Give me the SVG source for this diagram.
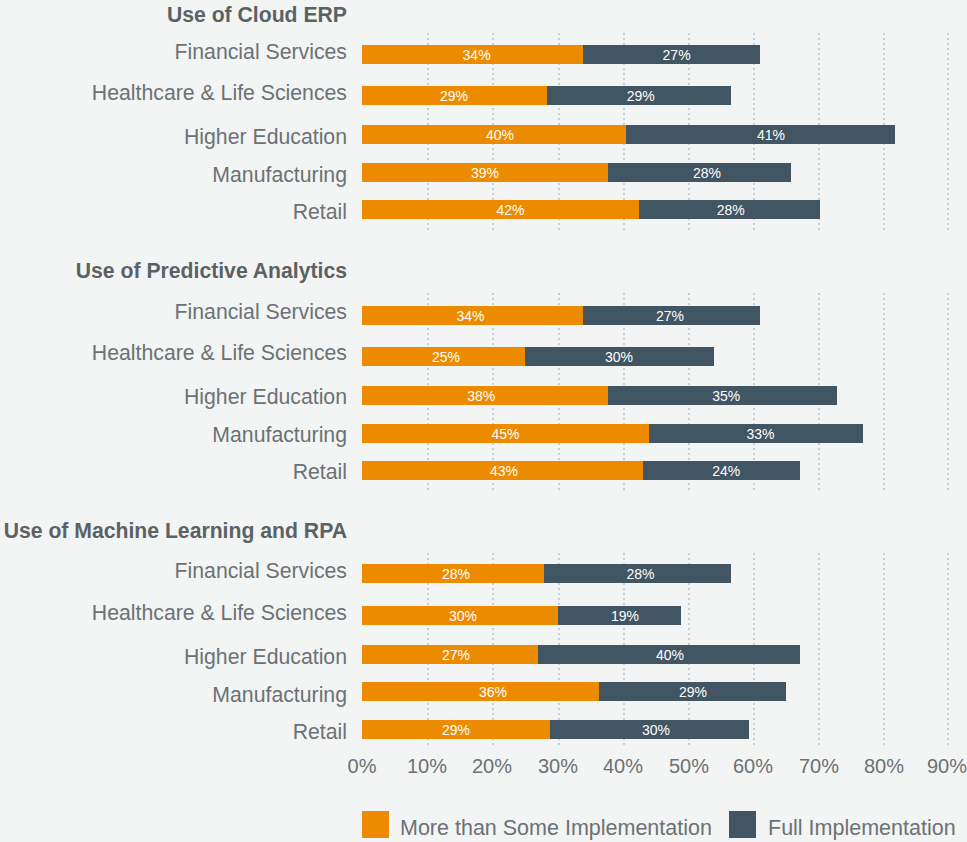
<svg xmlns="http://www.w3.org/2000/svg" width="967" height="842" viewBox="0 0 967 842">
<style>
.bg{fill:#f3f4f4}
.o{fill:#ec8b00}
.d{fill:#425563}
.grid{stroke:#c3d1dc;stroke-width:2;stroke-dasharray:2 3;fill:none}
.title{font-family:"Liberation Sans",Arial,sans-serif;font-weight:bold;font-size:21.2px;fill:#5b6265;text-anchor:end}
.cat{font-family:"Liberation Sans",Arial,sans-serif;font-size:21.25px;fill:#6b7275;text-anchor:end}
.val{font-family:"Liberation Sans",Arial,sans-serif;font-size:14px;fill:#ffffff;text-anchor:middle}
.axis{font-family:"Liberation Sans",Arial,sans-serif;font-size:20px;fill:#6b7275;text-anchor:middle}
.leg{font-family:"Liberation Sans",Arial,sans-serif;font-size:21.5px;fill:#6b7275}
</style>
<rect class="bg" x="0" y="0" width="967" height="842"/>
<g id="gridlines">
<path class="grid" d="M428 33V232M493 33V232M559 33V232M624 33V232M689 33V232M754 33V232M819 33V232M884 33V232M948 33V232"/>
<path class="grid" d="M428 293V492M493 293V492M559 293V492M624 293V492M689 293V492M754 293V492M819 293V492M884 293V492M948 293V492"/>
<path class="grid" d="M428 553V748M493 553V748M559 553V748M624 553V748M689 553V748M754 553V748M819 553V748M884 553V748M948 553V748"/>
</g>
<g id="section-erp">
<text class="title" x="347" y="22">Use of Cloud ERP</text>
<g id="erp-fs"><text class="cat" x="347" y="59">Financial Services</text><rect class="o" x="362" y="45" width="221" height="19"/><rect class="d" x="583" y="45" width="177" height="19"/><text class="val" x="476.6" y="59.8">34%</text><text class="val" x="676.6" y="59.8">27%</text></g>
<g id="erp-hls"><text class="cat" x="347" y="100">Healthcare &amp; Life Sciences</text><rect class="o" x="362" y="86" width="185" height="19"/><rect class="d" x="547" y="86" width="184" height="19"/><text class="val" x="454" y="100.8">29%</text><text class="val" x="640.7" y="100.8">29%</text></g>
<g id="erp-he"><text class="cat" x="347" y="144">Higher Education</text><rect class="o" x="362" y="125" width="264" height="19"/><rect class="d" x="626" y="125" width="269" height="19"/><text class="val" x="500" y="139.8">40%</text><text class="val" x="771" y="139.8">41%</text></g>
<g id="erp-mfg"><text class="cat" x="347" y="182">Manufacturing</text><rect class="o" x="362" y="163" width="246" height="19"/><rect class="d" x="608" y="163" width="183" height="19"/><text class="val" x="485" y="177.8">39%</text><text class="val" x="707" y="177.8">28%</text></g>
<g id="erp-retail"><text class="cat" x="347" y="219">Retail</text><rect class="o" x="362" y="200" width="277" height="19"/><rect class="d" x="639" y="200" width="181" height="19"/><text class="val" x="510.5" y="214.8">42%</text><text class="val" x="730.7" y="214.8">28%</text></g>
</g>
<g id="section-pa">
<text class="title" x="347" y="278">Use of Predictive Analytics</text>
<g id="pa-fs"><text class="cat" x="347" y="318.5">Financial Services</text><rect class="o" x="362" y="306" width="221" height="19"/><rect class="d" x="583" y="306" width="177" height="19"/><text class="val" x="470.5" y="320.8">34%</text><text class="val" x="670" y="320.8">27%</text></g>
<g id="pa-hls"><text class="cat" x="347" y="360">Healthcare &amp; Life Sciences</text><rect class="o" x="362" y="347" width="163" height="19"/><rect class="d" x="525" y="347" width="189" height="19"/><text class="val" x="446" y="361.8">25%</text><text class="val" x="619" y="361.8">30%</text></g>
<g id="pa-he"><text class="cat" x="347" y="404">Higher Education</text><rect class="o" x="362" y="386" width="246" height="19"/><rect class="d" x="608" y="386" width="229" height="19"/><text class="val" x="481.3" y="400.8">38%</text><text class="val" x="726.3" y="400.8">35%</text></g>
<g id="pa-mfg"><text class="cat" x="347" y="442">Manufacturing</text><rect class="o" x="362" y="424" width="287" height="19"/><rect class="d" x="649" y="424" width="214" height="19"/><text class="val" x="505.5" y="438.8">45%</text><text class="val" x="760.5" y="438.8">33%</text></g>
<g id="pa-retail"><text class="cat" x="347" y="479.3">Retail</text><rect class="o" x="362" y="461" width="281" height="19"/><rect class="d" x="643" y="461" width="157" height="19"/><text class="val" x="504" y="475.8">43%</text><text class="val" x="726.3" y="475.8">24%</text></g>
</g>
<g id="section-ml">
<text class="title" x="347" y="538">Use of Machine Learning and RPA</text>
<g id="ml-fs"><text class="cat" x="347" y="578.3">Financial Services</text><rect class="o" x="362" y="564" width="182" height="19"/><rect class="d" x="544" y="564" width="187" height="19"/><text class="val" x="456" y="578.8">28%</text><text class="val" x="640.4" y="578.8">28%</text></g>
<g id="ml-hls"><text class="cat" x="347" y="620">Healthcare &amp; Life Sciences</text><rect class="o" x="362" y="606" width="196" height="19"/><rect class="d" x="558" y="606" width="123" height="19"/><text class="val" x="463" y="620.8">30%</text><text class="val" x="625" y="620.8">19%</text></g>
<g id="ml-he"><text class="cat" x="347" y="664">Higher Education</text><rect class="o" x="362" y="645" width="176" height="19"/><rect class="d" x="538" y="645" width="262" height="19"/><text class="val" x="456" y="659.8">27%</text><text class="val" x="670" y="659.8">40%</text></g>
<g id="ml-mfg"><text class="cat" x="347" y="701.7">Manufacturing</text><rect class="o" x="362" y="682" width="237" height="19"/><rect class="d" x="599" y="682" width="187" height="19"/><text class="val" x="493" y="696.8">36%</text><text class="val" x="693" y="696.8">29%</text></g>
<g id="ml-retail"><text class="cat" x="347" y="739">Retail</text><rect class="o" x="362" y="720" width="188" height="19"/><rect class="d" x="550" y="720" width="199" height="19"/><text class="val" x="456" y="734.8">29%</text><text class="val" x="656" y="734.8">30%</text></g>
</g>
<g id="axis">
<text class="axis" x="362" y="772.5">0%</text>
<text class="axis" x="427" y="772.5">10%</text>
<text class="axis" x="492" y="772.5">20%</text>
<text class="axis" x="558" y="772.5">30%</text>
<text class="axis" x="623" y="772.5">40%</text>
<text class="axis" x="689" y="772.5">50%</text>
<text class="axis" x="753" y="772.5">60%</text>
<text class="axis" x="819" y="772.5">70%</text>
<text class="axis" x="884" y="772.5">80%</text>
<text class="axis" x="947" y="772.5">90%</text>
</g>
<g id="legend">
<rect class="o" x="362" y="811" width="27" height="27"/>
<text class="leg" x="400" y="835">More than Some Implementation</text>
<rect class="d" x="729" y="811" width="27" height="27"/>
<text class="leg" x="768" y="835">Full Implementation</text>
</g>
</svg>
